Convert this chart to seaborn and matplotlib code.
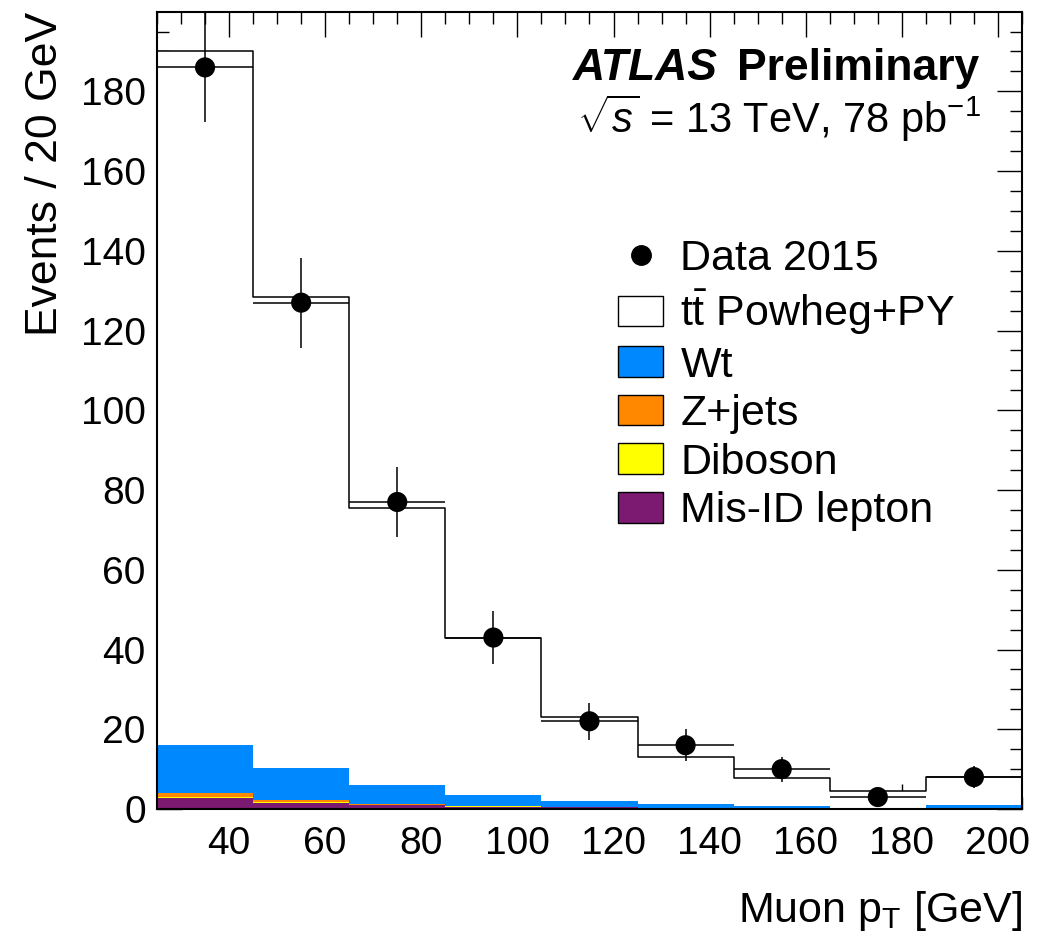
#!/usr/bin/env python

import numpy as np
import pandas as pd
import seaborn as sns
from matplotlib import pyplot as plt
from matplotlib.ticker import MultipleLocator
from matplotlib.lines import Line2D
from matplotlib.patches import Patch


# binning: 20 GeV bins from 25 to 205 GeV
bin_edges = [25, 45, 65, 85, 105, 125, 145, 165, 185, 205]
bin_centers = [35, 55, 75, 95, 115, 135, 155, 175, 195]

# observed events
data_2015 = [186, 127, 77, 43, 22, 16, 10, 3, 8]

# stacked predictions
ttbar = [174.0, 118.1, 69.4, 39.5, 20.9, 11.7, 7.0, 4.1, 7.0]
wt = [12.0, 8.2, 4.9, 2.7, 1.6, 1.0, 0.6, 0.2, 1.0]
zjets = [1.0, 0.4, 0.1, 0.1, 0.0, 0.0, 0.0, 0.0, 0.0]
diboson = [0.3, 0.3, 0.1, 0.1, 0.1, 0.0, 0.0, 0.0, 0.0]
misid = [2.7, 1.5, 1.0, 0.6, 0.4, 0.3, 0.2, 0.1, 0.1]

process_names = ['ttbar', 'Wt', 'Z+jets', 'Diboson', 'Mis-ID lepton']
process_colors = ['white', '#0088ff', '#ff8800', '#ffff00', '#7b1a70']
legend_labels = [r'$\mathregular{t\bar{t}}$ Powheg+PY', 'Wt', 'Z+jets', 'Diboson', 'Mis-ID lepton']


sns.set_style('ticks')
plt.rcParams['font.family'] = ['Liberation Sans', 'DejaVu Sans']
plt.rcParams['text.color'] = 'black'
plt.rcParams['axes.labelcolor'] = 'black'
plt.rcParams['xtick.color'] = 'black'
plt.rcParams['ytick.color'] = 'black'
plt.rcParams['mathtext.fontset'] = 'custom'
plt.rcParams['mathtext.rm'] = 'Liberation Sans'
plt.rcParams['mathtext.it'] = 'Liberation Sans:italic'
plt.rcParams['mathtext.bf'] = 'Liberation Sans:bold'

# long-form table for the stacked histogram
stack_df = pd.concat([
    pd.DataFrame({'pt': bin_centers, 'events': vals, 'process': name})
    for name, vals in zip(process_names, [ttbar, wt, zjets, diboson, misid])
], ignore_index=True)

total = np.sum([ttbar, wt, zjets, diboson, misid], axis=0)

fig = plt.figure(figsize=(10.55, 9.43), dpi=100)
ax = fig.add_axes([0.1488, 0.1421, 0.8199, 0.8452])

sns.histplot(data=stack_df, x='pt', weights='events', hue='process',
             hue_order=process_names, palette=dict(zip(process_names, process_colors)),
             bins=bin_edges, multiple='stack', element='step', fill=True,
             alpha=1, linewidth=0, legend=False, ax=ax)

# outline of the full stack
sns.histplot(x=bin_centers, weights=total, bins=bin_edges, element='step',
             fill=False, color='black', linewidth=1.1, ax=ax)

# data with stat errors
ax.errorbar(bin_centers, data_2015, xerr=10, yerr=np.sqrt(data_2015),
            fmt='none', ecolor='black', elinewidth=1.1, capsize=0, zorder=5)
sns.scatterplot(x=bin_centers, y=data_2015, color='black', s=210,
                edgecolor='none', zorder=6, ax=ax)

ax.set_xlim(25, 205)
ax.set_ylim(0, 199.9)
ax.xaxis.set_major_locator(MultipleLocator(20))
ax.xaxis.set_minor_locator(MultipleLocator(5))
ax.yaxis.set_major_locator(MultipleLocator(20))
ax.yaxis.set_minor_locator(MultipleLocator(5))
ax.tick_params(which='both', direction='in', top=True, right=True,
               width=1.0, color='black', labelcolor='black', labelsize=28)
ax.tick_params(which='major', length=18)
ax.tick_params(which='minor', length=8.5)
ax.tick_params(axis='x', which='major', pad=12)
ax.tick_params(axis='y', which='major', pad=8)
for spine in ax.spines.values():
    spine.set_linewidth(1.5)
    spine.set_color('black')

ax.set_ylabel('Events / 20 GeV', fontsize=32, loc='top')
ax.yaxis.set_label_coords(-0.105, 1.0)
ax.set_xlabel(r'Muon p$_\mathregular{T}$ [GeV]', fontsize=31, loc='right')
ax.xaxis.set_label_coords(1.0, -0.1)

ax.text(0.481, 0.9147, 'ATLAS', transform=ax.transAxes, fontsize=32,
        fontweight='bold', fontstyle='italic', va='baseline')
ax.text(0.6705, 0.9147, 'Preliminary', transform=ax.transAxes, fontsize=32,
        fontweight='bold', va='baseline')
ax.text(0.4856, 0.848, r'$\sqrt{s}$ = 13 TeV, 78 pb$^{-1}$', transform=ax.transAxes,
        fontsize=30, va='baseline')

handles = [Line2D([], [], marker='o', color='black', linestyle='none', markersize=14)]
handles += [Patch(facecolor=c, edgecolor='black', linewidth=1.0) for c in process_colors]
ax.legend(handles, ['Data 2015'] + legend_labels, loc='upper left',
          bbox_to_anchor=(0.533, 0.715), frameon=False, fontsize=31,
          handlelength=1.05, handleheight=0.72, handletextpad=0.4,
          labelspacing=0.2, borderpad=0, borderaxespad=0)

plt.savefig('out.png', dpi=100)
